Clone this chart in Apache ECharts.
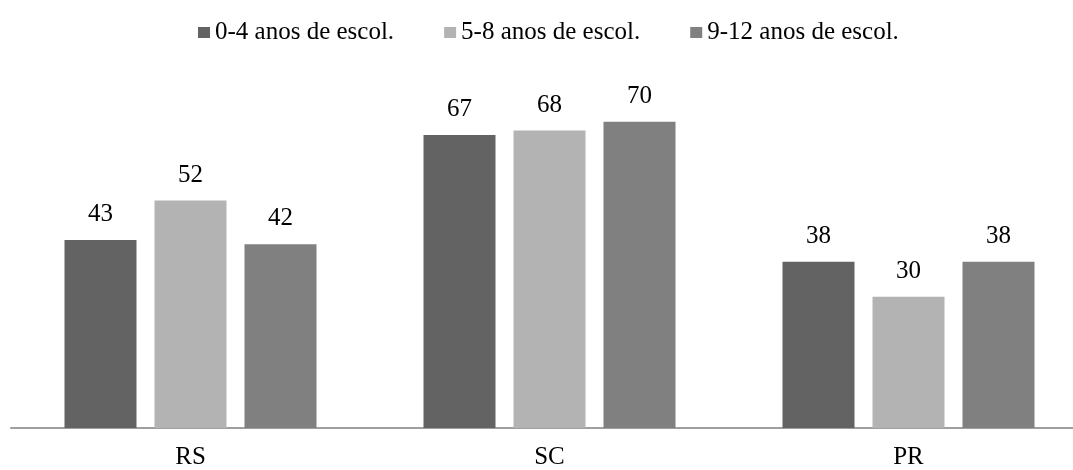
<!DOCTYPE html>
<html>
<head>
<meta charset="utf-8">
<script src="https://cdn.jsdelivr.net/npm/echarts@6/dist/echarts.min.js"></script>
<style>
  html, body { margin: 0; padding: 0; background: #fff; }
  #chart { width: 1073px; height: 470px; }
</style>
</head>
<body>
<div id="chart"></div>
<script>
// Share by state and schooling band
const categories = ['RS', 'SC', 'PR'];
const seriesNames = ['0-4 anos de escol.', '5-8 anos de escol.', '9-12 anos de escol.'];
const values04 = [43, 67, 38];
const values58 = [52, 68, 30];
const values912 = [42, 70, 38];
const colors = ['#636363', '#b3b3b3', '#808080'];

const font = "'Liberation Serif', 'Times New Roman', serif";
const seriesData = [values04, values58, values912];

const chart = echarts.init(document.getElementById('chart'));
chart.setOption({
  animation: false,
  textStyle: { fontFamily: font },
  legend: {
    top: 15,
    left: 193,
    itemWidth: 12,
    itemHeight: 11,
    itemGap: 50,
    icon: 'rect',
    textStyle: { fontFamily: font, fontSize: 25, color: '#000' },
    data: seriesNames
  },
  // the plot runs a little past the right edge so the last group sits where it should
  grid: {
    left: 11, width: 1077, top: 78, bottom: 42,
    containLabel: false,
    outerBoundsMode: 'none'
  },
  xAxis: {
    type: 'category',
    data: categories,
    axisLine: { lineStyle: { color: '#9f9f9f', width: 2 } },
    axisTick: { show: false },
    axisLabel: { fontFamily: font, fontSize: 25, color: '#000', margin: 17 }
  },
  yAxis: {
    type: 'value',
    min: 0,
    max: 80,
    show: false
  },
  series: seriesData.map((vals, i) => ({
    name: seriesNames[i],
    type: 'bar',
    data: vals,
    barGap: '25%',
    barCategoryGap: '29.8%',
    itemStyle: { color: colors[i] },
    label: {
      show: true,
      position: 'top',
      distance: 13,
      fontFamily: font,
      fontSize: 25,
      color: '#000'
    }
  }))
});
</script>
</body>
</html>
